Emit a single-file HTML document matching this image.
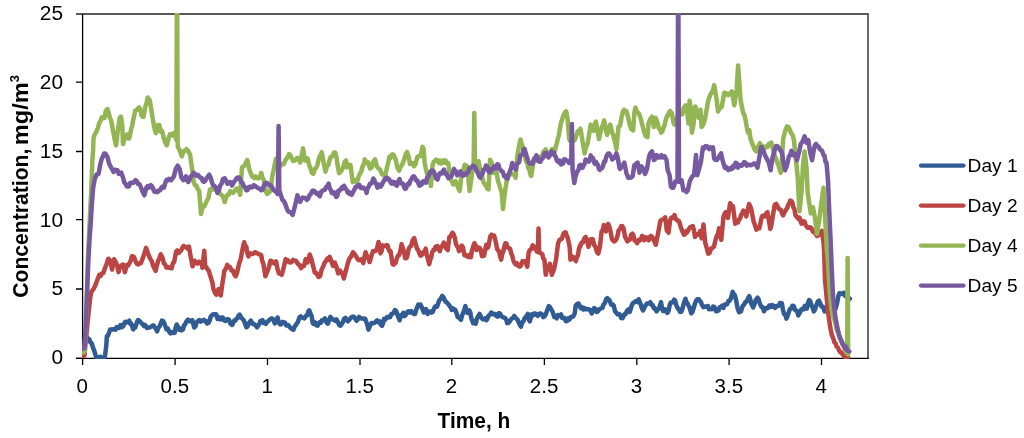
<!DOCTYPE html>
<html><head><meta charset="utf-8"><style>
html,body{margin:0;padding:0;background:#fff;width:1024px;height:438px;overflow:hidden}
svg{display:block}
text{font-family:"Liberation Sans",sans-serif;fill:#000}
.g{filter:grayscale(1)}
.t{font-size:19.5px}
.b{font-weight:bold}
</style></head><body>
<svg width="1024" height="438" viewBox="0 0 1024 438">
<defs><clipPath id="c"><rect x="82" y="13" width="786" height="346"/></clipPath></defs>
<rect x="0" y="0" width="1024" height="438" fill="#fff"/>
<path d="M76 14H868V358.5" fill="none" stroke="#5a5a5a" stroke-width="1.8"/>
<g stroke="#000" stroke-width="1.3" fill="none">
<path d="M82.6 14V358.4M76 358.4H868.9"/>
<path d="M76 358.40H83M76 289.00H83M76 219.65H83M76 151.50H83M76 82.20H83M82.6 358V365M175.1 358V365M267.5 358V365M360.0 358V365M451.8 358V365M544.4 358V365M636.8 358V365M729.1 358V365M821.5 358V365"/>
</g>
<g clip-path="url(#c)" fill="none" stroke-width="4.5" stroke-linejoin="round" stroke-linecap="round">
<polyline stroke="#315C93" points="86.0,338.5 87.2,337.4 88.3,340.6 89.5,339.5 90.5,342.7 91.5,342.9 92.5,346.0 93.5,348.9 94.5,351.5 95.5,355.2 96.5,357.5 97.5,358.6 98.6,359.8 99.7,357.0 100.8,356.7 101.8,359.9 102.9,358.3 104.0,358.6 105.0,356.0 106.4,344.5 106.8,336.3 107.8,335.8 108.8,333.3 110.2,329.4 111.7,329.4 113.2,329.2 114.6,329.4 115.6,329.7 116.6,327.0 117.6,327.5 119.0,328.0 120.5,325.0 122.0,327.1 123.4,326.0 124.4,323.0 125.4,321.8 126.4,322.6 127.9,321.8 129.3,320.6 130.3,323.9 131.3,323.6 133.2,329.4 134.2,328.0 135.2,327.5 137.1,321.6 138.1,320.0 139.1,320.6 141.0,322.6 142.4,324.0 143.9,326.0 144.9,324.8 145.9,326.2 146.9,328.0 148.4,327.5 149.8,327.5 151.2,326.5 152.7,325.5 153.7,325.4 154.7,327.5 155.9,328.4 157.1,331.4 158.3,327.8 159.6,326.5 160.8,323.4 162.0,320.6 163.2,321.3 164.5,323.6 166.4,329.4 167.9,328.7 169.3,331.9 170.3,333.3 171.3,332.1 172.3,331.9 173.5,332.9 174.7,332.8 175.7,327.4 176.7,324.5 178.1,327.0 179.1,329.7 180.1,328.4 181.6,330.3 183.0,329.4 184.0,325.4 185.0,324.5 186.4,321.4 187.9,319.6 189.1,321.2 190.3,321.1 191.3,321.4 192.3,320.1 194.2,327.5 195.4,326.5 196.7,322.1 198.1,320.8 199.6,320.1 200.7,321.6 201.8,321.0 202.9,320.5 203.9,319.9 204.9,321.2 205.9,321.0 207.1,323.5 208.3,322.9 209.5,321.1 210.7,316.6 211.9,315.4 213.2,314.2 214.6,314.6 216.1,314.2 217.6,319.0 219.1,317.4 220.5,319.5 221.7,317.5 222.9,317.6 224.2,320.5 225.4,321.0 226.6,319.7 227.8,319.0 229.1,319.9 230.3,323.4 232.2,324.9 233.2,322.9 234.2,320.5 235.4,320.4 236.6,318.6 237.6,318.0 238.6,315.4 239.6,314.6 241.5,318.1 242.7,319.1 243.9,320.5 245.2,323.9 246.4,327.3 247.6,326.5 248.8,323.4 249.8,322.0 250.8,320.5 252.7,323.9 253.9,324.0 255.2,324.9 257.1,327.3 258.1,325.8 259.1,324.4 260.3,321.1 261.5,321.5 262.5,320.0 263.5,323.0 264.5,322.5 265.9,323.9 267.4,321.5 268.6,320.9 269.8,319.5 271.1,318.6 272.3,318.6 273.5,319.7 274.7,323.4 276.1,320.5 277.6,317.6 278.9,322.9 280.1,324.4 281.3,324.3 282.5,322.0 283.8,322.4 285.0,322.5 286.2,325.4 287.4,325.4 288.6,325.3 289.8,327.3 291.1,328.4 292.3,329.3 293.5,329.7 294.7,326.4 295.7,325.4 296.7,323.6 297.7,322.5 299.6,317.1 300.8,316.3 302.0,317.4 303.2,318.1 304.4,318.4 306.3,315.4 307.3,315.3 308.3,311.5 309.3,310.3 310.3,313.0 311.7,316.4 312.7,323.3 313.9,323.9 315.1,322.3 316.4,325.3 317.6,325.7 319.5,322.3 320.8,322.8 322.0,320.3 323.4,320.3 324.9,318.4 326.4,322.3 327.8,323.7 329.1,320.4 330.3,316.9 331.5,318.3 332.7,319.3 333.9,319.8 335.2,320.8 336.4,319.3 337.6,321.3 339.1,325.0 340.5,325.7 341.8,324.0 343.0,321.8 344.2,318.6 345.4,317.9 346.6,319.6 347.9,321.3 349.4,319.5 350.8,317.9 351.9,317.0 353.1,316.6 354.2,316.9 355.4,319.0 356.6,320.8 357.9,319.3 359.1,316.9 360.3,318.1 361.5,318.4 362.8,318.5 364.0,318.9 365.2,318.7 366.4,322.3 367.4,324.9 368.4,329.6 370.3,325.2 371.6,323.0 372.8,323.3 374.0,323.1 375.2,322.3 377.1,320.3 378.4,322.2 379.6,321.3 380.8,324.7 382.0,325.7 383.0,323.5 384.0,318.9 385.2,319.7 386.4,317.9 387.6,316.7 388.9,317.4 390.1,317.1 391.3,314.0 392.6,313.9 393.8,312.5 395.0,310.1 396.2,311.0 398.1,316.4 399.6,320.3 401.0,315.4 402.4,314.4 403.4,312.8 404.4,316.1 405.4,315.4 407.3,312.0 408.6,311.2 409.8,312.5 411.2,311.1 412.7,312.9 413.9,313.9 415.1,313.9 416.1,310.1 417.1,307.6 418.3,304.6 419.5,305.1 420.5,304.5 421.5,306.6 422.7,309.7 423.9,312.5 424.9,309.4 425.9,309.0 427.8,313.9 429.1,311.8 430.3,311.5 431.5,312.6 432.7,312.0 433.7,309.4 434.7,307.1 435.9,306.1 437.1,306.6 438.1,303.5 439.1,300.7 441.0,298.3 442.2,295.9 443.5,297.3 445.4,301.7 446.6,302.2 447.9,303.7 449.8,306.1 450.8,307.7 451.8,310.0 453.0,308.5 454.2,309.5 455.4,309.9 456.6,313.4 457.6,316.9 458.6,317.3 459.8,318.6 461.0,319.8 462.0,315.4 463.0,313.4 464.2,310.2 465.4,306.1 466.4,310.8 467.4,312.9 469.3,310.5 470.3,312.5 471.3,318.3 473.2,323.2 474.4,321.5 475.7,323.7 476.9,318.6 478.1,316.4 479.6,313.9 481.5,317.8 482.8,319.4 484.0,319.3 485.2,318.4 486.4,320.3 487.4,318.9 488.4,315.9 489.9,314.9 491.3,312.5 492.6,313.6 493.8,314.4 495.0,314.0 496.2,315.9 497.4,316.6 498.6,313.4 499.1,313.2 500.0,313.4 501.2,316.3 502.4,316.9 503.6,317.4 504.9,317.8 506.1,319.4 507.3,323.2 508.6,322.8 509.8,321.3 511.0,319.4 512.2,318.3 513.2,317.4 514.2,315.9 516.1,318.3 517.4,319.5 518.6,322.2 519.8,324.9 521.0,326.6 522.2,322.2 523.4,321.3 524.6,318.3 525.9,316.9 527.8,313.9 528.8,319.5 529.8,321.3 531.7,314.4 533.0,315.4 534.2,313.4 535.4,313.4 536.6,314.9 537.9,315.8 539.1,313.9 540.5,313.4 542.0,314.4 543.2,317.2 544.4,316.4 545.6,314.7 546.9,311.0 548.8,306.1 549.8,307.0 550.8,308.6 552.7,312.0 554.2,316.9 555.4,316.6 556.6,318.3 557.9,315.1 559.1,315.9 561.0,314.4 562.2,317.9 563.5,318.3 564.7,318.0 565.9,321.3 567.1,321.1 568.4,318.3 569.6,319.4 570.8,316.9 572.0,316.9 573.2,316.4 574.7,313.4 575.7,305.6 577.6,303.7 578.6,303.6 579.6,306.1 580.8,308.1 582.0,307.1 583.2,309.5 584.5,308.1 585.7,309.4 586.9,309.0 588.1,309.3 589.4,309.5 590.6,311.0 591.8,313.4 593.0,310.1 594.2,308.1 595.5,308.9 596.7,312.0 597.9,311.4 599.1,309.5 600.0,309.0 601.2,308.2 602.4,308.0 603.6,304.3 604.9,303.1 606.1,299.1 607.3,298.2 608.3,299.6 609.3,299.7 611.2,304.6 612.5,304.2 613.7,305.5 615.1,311.4 616.4,312.8 617.6,314.3 618.8,313.9 620.0,314.8 621.2,318.0 622.5,318.2 624.4,314.3 625.6,314.2 626.9,310.9 628.3,309.5 629.8,311.9 631.7,305.5 633.0,302.9 634.2,302.6 635.4,301.2 636.6,301.1 637.6,302.1 638.6,299.2 640.5,303.6 641.8,308.1 643.0,310.4 644.9,306.5 645.9,304.9 646.9,303.4 647.9,303.6 649.1,303.5 650.3,302.1 651.5,304.9 652.7,305.0 653.7,308.2 654.7,308.0 656.6,311.4 657.9,309.3 659.1,308.5 661.0,302.1 662.0,308.0 663.0,310.9 664.2,310.9 665.4,309.4 666.4,311.1 667.4,312.9 668.6,310.7 669.8,304.6 670.8,302.5 671.8,302.6 673.0,302.1 674.2,299.7 675.2,300.7 676.2,305.0 678.1,308.9 679.1,309.1 680.1,311.9 681.3,311.8 682.5,308.5 684.0,302.5 685.4,298.7 686.4,301.9 687.4,303.1 688.4,305.5 689.4,307.0 691.3,313.3 692.5,311.8 693.8,307.5 695.0,303.5 696.2,300.6 697.4,299.3 698.6,299.2 700.0,301.1 701.0,302.2 702.0,305.0 703.5,307.2 704.9,306.5 706.3,306.7 707.8,306.0 709.0,309.3 710.3,308.9 711.8,309.2 713.2,306.5 714.7,307.4 716.1,311.3 717.4,311.1 718.6,310.4 719.8,307.1 721.0,306.9 722.2,305.6 723.4,307.9 724.6,304.5 725.9,304.5 727.1,304.3 728.3,301.1 729.5,301.0 730.8,298.6 732.7,291.8 733.7,294.6 734.7,294.7 736.1,300.1 737.6,308.4 739.1,312.3 741.0,311.3 742.0,307.8 743.0,305.5 744.2,304.3 745.4,302.1 746.6,301.5 747.9,298.6 749.3,296.2 750.3,299.4 751.3,303.5 753.2,307.4 754.5,304.0 755.7,300.1 757.6,297.7 758.6,299.2 759.6,303.0 761.5,306.9 762.8,307.4 764.0,311.3 765.2,308.7 766.4,307.9 767.8,308.3 769.3,305.5 770.3,305.6 771.3,306.9 772.3,305.0 773.8,306.3 775.2,307.9 776.4,306.1 777.6,306.0 778.9,305.6 780.1,303.0 781.8,303.2 783.0,310.0 784.1,314.1 785.2,314.4 786.4,318.7 787.5,316.2 788.7,312.3 789.9,308.9 791.0,308.7 792.4,305.8 793.7,305.9 794.9,309.7 796.0,310.5 797.1,311.2 798.3,315.5 800.1,312.3 801.2,309.5 802.4,308.7 803.5,309.3 804.7,305.9 805.8,307.0 806.9,308.7 808.0,302.8 809.2,300.0 810.4,301.4 811.5,305.5 812.6,307.4 813.8,311.4 815.0,309.6 816.1,305.9 817.9,301.4 819.0,300.7 820.2,303.2 821.4,306.4 822.5,306.4 823.6,308.4 824.7,311.4 826.6,306.8 827.7,308.1 828.9,307.2 830.0,305.0 831.0,304.8 832.0,305.3 833.0,307.0 834.2,307.9 835.5,309.0 837.1,303.2 838.4,295.9 839.5,293.2 840.7,293.6 841.9,294.0 843.0,293.1 844.1,292.7 845.3,295.9 846.5,294.6 847.6,297.2 848.8,299.8 849.9,298.6"/>
<polyline stroke="#BB4542" points="82.6,356.0 84.5,355.5 85.6,342.0 86.6,332.0 87.6,322.0 90.1,298.6 91.3,292.2 91.7,291.3 93.6,288.8 95.5,284.9 97.4,279.8 99.3,274.7 100.6,275.9 101.9,273.4 103.2,273.3 104.5,269.6 106.4,264.5 108.3,258.7 110.2,260.6 112.1,269.6 114.1,259.3 116.0,262.5 117.2,265.5 118.5,272.1 119.8,267.2 121.1,265.7 123.0,264.5 124.9,272.1 126.8,265.1 128.1,265.5 129.4,263.2 130.7,260.6 132.0,256.1 133.9,256.8 135.8,261.9 137.1,263.9 138.3,264.5 139.6,263.1 140.9,263.2 142.8,258.1 143.9,255.1 144.9,251.7 146.0,247.8 147.9,253.0 149.2,256.5 150.5,259.3 151.8,261.1 153.1,265.7 154.3,268.0 155.6,270.9 156.9,265.3 158.2,260.6 159.4,258.3 160.7,254.2 162.6,258.1 163.9,263.3 165.2,264.5 166.3,267.4 167.3,266.8 168.4,267.7 169.5,267.7 170.5,267.2 171.6,268.3 172.9,263.2 174.2,261.9 176.1,251.7 177.3,250.5 178.6,253.0 179.9,251.6 181.2,250.4 182.4,247.5 183.7,246.0 184.0,246.5 185.4,246.7 186.8,247.9 187.9,248.8 189.0,246.5 190.4,255.0 192.5,266.3 193.6,263.6 194.6,260.7 196.1,262.3 197.5,263.5 198.9,261.7 200.3,262.1 201.4,263.0 202.4,267.7 204.3,250.7 205.2,266.3 206.3,267.1 207.4,269.2 208.8,270.9 210.2,275.5 211.2,278.7 212.3,281.9 213.4,288.8 214.5,291.8 215.6,293.9 216.6,294.7 217.6,290.6 218.7,289.0 219.8,293.8 220.8,295.4 222.2,284.7 224.4,270.6 225.8,268.9 227.2,264.9 228.6,266.9 230.0,267.0 231.4,270.4 232.9,270.6 234.3,274.5 235.7,276.2 237.1,272.4 238.5,266.3 239.6,262.2 240.7,259.2 242.8,247.9 244.2,242.2 245.2,246.3 246.3,246.5 247.4,253.3 248.4,256.4 249.9,253.6 251.3,253.6 252.5,254.1 253.6,253.5 254.8,252.2 256.2,252.7 257.7,253.6 258.9,254.2 260.0,254.5 261.2,255.0 262.2,260.9 263.3,263.5 265.4,276.2 266.5,273.4 267.6,270.6 269.0,267.0 270.4,260.7 271.8,261.2 273.2,262.8 274.6,263.6 276.1,261.4 277.5,269.0 278.9,273.4 280.3,273.9 281.7,274.8 282.9,270.8 284.0,266.3 285.7,259.1 286.9,261.4 288.0,260.3 289.4,262.3 290.8,262.5 292.0,261.7 293.1,259.9 294.3,260.3 295.7,260.7 297.1,262.5 298.2,264.4 299.4,264.8 301.1,268.2 302.6,265.8 304.0,266.0 305.7,259.1 307.4,262.5 308.5,260.1 309.7,254.5 311.4,259.1 313.1,266.0 314.8,272.8 316.0,272.7 317.1,274.5 318.6,277.0 320.0,276.2 321.7,269.4 323.4,266.0 324.5,262.9 325.7,261.4 327.4,258.5 328.5,259.5 329.7,256.8 331.4,261.4 333.1,266.0 334.8,262.5 336.5,267.1 338.2,273.4 339.9,270.5 341.0,272.5 342.2,272.8 343.9,278.5 345.6,271.7 347.4,264.8 349.1,259.1 350.8,256.8 352.0,254.6 353.1,252.3 354.8,254.5 356.0,256.3 357.1,258.0 358.2,259.8 359.3,260.3 360.5,260.1 361.6,259.1 363.3,263.1 364.5,256.9 365.6,252.3 367.3,256.8 368.5,258.2 369.6,262.0 371.3,256.3 373.0,251.1 374.1,251.1 375.3,251.1 377.0,248.8 378.5,242.0 380.5,253.4 381.6,251.1 382.7,245.4 384.0,246.1 385.2,246.1 386.5,245.1 387.5,245.4 388.5,249.1 389.5,251.4 390.5,251.1 392.6,264.2 393.6,264.6 394.6,263.2 395.6,262.8 396.6,259.2 397.9,255.9 399.1,255.1 400.4,250.6 401.6,244.1 403.1,249.1 404.1,251.9 405.1,258.2 406.1,258.3 407.1,257.2 408.6,249.1 409.9,246.7 411.1,246.1 412.7,240.1 414.2,238.1 415.7,244.1 417.2,249.1 418.2,250.0 419.2,253.1 420.4,255.6 421.7,255.1 422.7,252.5 423.7,253.1 424.7,250.9 425.7,248.6 426.7,254.8 427.7,258.2 429.2,264.2 430.2,259.7 431.2,257.2 432.2,252.5 433.3,250.1 434.3,250.1 435.3,247.1 436.3,246.3 437.3,246.1 438.6,249.5 439.8,251.1 441.1,246.7 442.3,246.1 443.8,242.6 444.8,244.8 445.8,248.1 446.8,247.8 447.8,250.1 449.3,237.1 450.3,236.7 451.3,235.0 452.4,232.8 453.4,234.0 454.9,238.1 455.9,243.9 456.9,246.1 457.9,246.7 458.9,251.1 459.9,250.5 460.9,248.1 461.9,245.7 462.9,247.1 464.4,255.1 465.6,254.7 466.9,256.2 468.1,256.9 469.4,255.1 470.9,257.2 471.9,250.8 473.0,247.1 474.5,243.1 475.5,245.3 476.5,250.1 477.5,249.6 478.5,247.6 479.5,247.9 480.5,249.1 482.0,256.2 483.1,254.1 484.1,255.6 486.2,244.7 487.2,248.0 488.2,247.4 490.3,236.4 491.6,234.7 493.0,235.8 494.1,235.6 495.1,239.2 496.1,243.4 497.1,248.8 498.1,250.6 499.2,251.5 500.2,256.6 501.2,259.7 502.2,254.1 503.3,251.5 504.3,246.7 505.3,243.3 506.4,243.5 507.4,247.4 508.8,247.9 510.1,248.8 511.2,253.3 512.2,255.6 513.2,260.0 514.2,262.5 515.6,264.5 517.0,263.2 518.4,265.9 519.7,266.6 521.1,265.3 522.5,261.1 523.9,261.9 525.2,261.1 526.2,263.7 527.3,266.6 528.6,252.9 529.7,250.1 530.7,249.5 531.7,248.0 532.7,245.3 533.8,246.3 534.8,248.8 535.8,248.6 536.8,251.5 537.8,252.0 538.5,228.5 539.2,252.0 540.0,252.9 541.1,253.3 542.3,254.2 543.3,258.4 544.4,259.7 545.8,274.8 546.8,269.9 547.8,267.9 548.8,266.2 549.9,263.8 551.9,274.8 553.0,271.6 554.0,269.3 555.0,264.6 556.0,259.7 558.1,243.3 559.5,239.8 560.8,239.2 561.8,239.0 562.9,235.1 564.2,232.7 565.6,232.3 566.7,235.5 567.7,237.8 568.7,242.3 569.7,247.4 570.4,259.7 571.8,256.4 573.2,257.0 574.5,259.3 575.9,261.1 576.9,256.9 577.9,255.6 579.0,248.7 580.0,245.3 580.2,246.9 581.5,242.8 582.9,242.5 584.3,238.4 585.7,237.0 587.0,240.3 588.4,246.9 589.5,243.6 590.6,239.2 591.7,239.2 592.8,239.2 594.1,245.0 595.5,246.9 596.9,251.9 598.3,253.5 599.9,246.9 601.6,231.5 602.7,230.2 603.8,225.0 604.9,227.2 606.0,231.5 607.1,227.5 608.2,223.9 609.2,226.2 610.3,230.4 612.0,239.2 613.1,240.7 614.2,241.4 615.3,240.8 616.4,239.2 617.5,236.0 618.6,230.4 620.0,229.1 621.3,226.1 622.4,226.2 623.5,228.3 625.1,237.0 626.2,238.9 627.3,241.4 628.7,240.4 630.1,239.2 631.2,234.5 632.3,233.7 633.4,235.1 634.5,240.3 635.9,241.3 637.2,243.1 638.6,240.1 640.0,240.3 641.0,239.0 642.1,235.9 643.2,237.1 644.3,240.3 645.4,237.3 646.5,237.6 647.6,237.7 648.7,240.3 649.8,237.0 650.9,235.9 652.3,237.0 653.7,240.3 654.8,242.6 655.8,244.7 656.9,239.1 658.0,233.7 660.2,221.7 661.3,219.8 662.4,219.5 663.8,219.0 665.2,217.3 666.8,230.4 668.5,232.6 670.1,220.6 671.2,217.8 672.3,217.3 673.4,217.8 674.5,215.1 675.6,219.2 676.7,219.5 677.8,221.1 678.9,220.9 680.0,224.3 681.1,228.2 682.5,231.5 684.0,234.7 685.0,234.3 686.0,231.4 687.0,232.5 688.5,229.6 689.9,227.4 691.3,226.8 692.8,226.0 693.9,230.2 695.0,236.9 696.5,234.2 697.9,234.7 699.0,234.1 700.1,231.1 701.6,238.4 703.5,224.5 705.2,242.8 706.2,245.9 707.2,250.1 708.2,253.7 709.7,252.8 711.1,248.6 712.5,247.9 714.0,246.4 715.5,240.1 716.9,235.5 718.0,233.8 719.1,228.2 721.3,239.9 723.5,216.5 724.6,213.8 725.7,212.1 726.8,213.1 727.9,217.9 730.1,203.3 731.5,205.5 733.0,206.2 735.2,223.8 736.7,221.5 738.1,222.3 739.1,219.1 740.1,218.8 741.1,215.0 742.2,213.5 743.3,210.6 744.8,211.6 746.2,216.5 747.7,210.1 749.1,204.0 750.2,206.2 751.3,209.2 753.5,220.9 755.0,225.2 756.4,229.6 757.8,227.7 759.3,228.2 760.4,223.4 761.5,217.9 762.5,215.7 763.5,216.1 764.5,216.5 766.0,213.8 767.4,212.1 770.3,228.9 771.4,225.1 772.5,217.9 774.7,204.8 776.2,203.8 777.6,206.2 778.8,208.8 780.0,209.3 781.0,210.1 782.1,213.7 783.1,215.4 784.1,212.9 785.2,211.2 786.2,209.3 787.2,208.2 788.2,204.7 789.2,203.1 790.2,200.6 791.3,201.1 792.3,202.6 793.3,207.2 794.3,208.6 795.4,214.8 796.4,216.5 797.4,217.4 798.5,219.0 799.5,217.5 800.5,221.4 801.6,223.7 802.6,221.1 803.6,222.9 804.6,221.6 805.6,224.8 806.7,226.6 807.7,227.8 808.7,227.8 809.8,227.2 810.8,227.8 811.8,229.0 812.9,231.7 813.9,231.9 814.9,232.3 816.0,234.7 817.0,236.0 818.0,234.5 819.0,235.1 820.0,231.9 821.0,232.6 822.1,230.8 823.5,242.1 824.1,250.0 825.0,280.0 826.9,300.0 828.3,314.2 830.4,328.3 831.8,335.0 833.2,338.2 834.4,342.4 835.5,343.1 836.7,346.7 837.9,347.5 839.1,350.5 840.3,352.4 841.3,352.3 842.4,353.9 843.5,355.7 844.5,355.9 845.7,357.9 846.9,356.8 848.1,356.8"/>
<polyline stroke="#93B553" points="82.6,352.5 84.5,352.0 85.8,325.0 86.8,295.0 87.8,262.0 88.6,245.0 90.1,213.0 91.0,195.0 91.8,175.0 92.4,160.0 93.1,150.0 93.5,138.6 94.5,134.8 95.6,133.1 96.6,131.2 97.6,129.0 98.7,125.0 99.7,122.1 100.8,120.1 101.8,117.3 103.2,118.2 104.5,118.0 105.5,112.2 106.5,109.8 107.5,109.2 108.6,112.5 109.7,117.3 110.7,119.4 111.7,123.2 112.7,129.0 114.8,140.0 116.1,145.4 117.5,133.1 119.6,118.0 120.9,116.7 122.3,126.2 123.0,144.1 124.4,138.6 125.8,135.5 127.1,134.5 128.1,138.5 129.2,138.6 130.2,133.7 131.2,129.0 132.2,125.5 133.3,119.4 134.3,114.9 135.3,110.5 136.7,110.0 138.1,108.4 139.1,107.4 140.1,109.1 141.5,115.3 142.5,116.5 143.5,116.7 145.6,105.7 146.6,103.1 147.6,97.5 148.6,98.9 149.7,100.2 151.1,108.4 152.4,116.7 153.8,124.9 154.9,130.0 155.9,133.1 156.9,129.7 157.9,124.9 159.3,124.9 160.7,131.7 161.7,130.7 162.7,133.1 163.8,138.2 164.8,141.3 165.8,143.7 166.8,145.4 167.9,140.5 168.9,137.2 170.2,134.0 171.6,134.5 172.6,135.3 173.7,133.1 175.0,135.8 176.4,140.0 176.9,-20.0 177.1,-20.0 177.6,140.0 177.8,146.8 178.9,148.8 180.0,151.0 181.8,156.4 183.6,151.0 185.0,150.9 186.4,149.1 188.2,151.0 190.0,154.6 191.9,167.4 193.7,182.0 195.1,185.3 196.4,185.6 197.8,189.2 199.2,191.1 201.0,214.0 202.8,205.7 204.2,206.5 205.5,203.9 206.9,200.7 208.3,198.4 210.1,189.3 211.9,189.3 213.3,189.6 214.7,187.4 215.9,187.8 217.1,190.4 218.3,189.3 219.7,193.5 221.1,194.7 222.3,195.5 223.5,198.1 224.7,202.0 226.1,197.2 227.4,194.7 228.8,194.8 230.2,191.1 231.6,191.7 232.9,192.9 234.3,191.6 235.7,189.3 237.1,188.5 238.4,189.3 240.2,194.7 242.0,167.4 243.4,166.5 244.8,165.5 246.0,162.3 247.2,160.1 248.2,164.1 249.3,169.2 250.7,173.2 252.1,176.5 253.3,176.8 254.5,178.1 255.7,176.5 257.1,178.1 258.5,178.3 259.9,177.3 261.2,172.8 262.5,177.9 263.9,180.1 265.8,191.1 267.1,194.0 268.5,192.9 270.3,191.1 272.2,176.5 273.5,170.8 274.9,163.7 275.9,158.7 277.2,159.0 278.5,162.0 279.8,164.2 281.1,165.4 282.4,164.3 283.8,164.1 285.2,160.6 286.5,158.7 287.7,157.1 289.0,154.0 290.4,155.2 291.8,158.7 293.2,161.0 294.6,160.6 296.0,159.5 297.4,157.8 298.8,159.3 300.2,162.5 303.0,148.4 304.9,160.6 306.3,157.9 307.7,158.7 309.1,164.8 310.5,168.1 311.9,172.9 313.3,173.7 314.7,169.3 316.1,168.1 317.5,164.6 318.9,158.7 320.4,155.1 321.8,152.2 323.6,162.5 325.5,171.8 326.0,169.7 327.1,166.0 328.3,165.1 329.5,160.3 330.6,157.1 331.7,156.7 332.9,155.6 334.0,152.6 335.1,152.5 336.3,156.0 337.4,164.0 339.1,173.1 340.2,172.4 341.4,170.8 343.1,167.4 344.8,161.7 346.0,160.5 347.1,167.4 348.8,165.1 350.5,165.1 351.7,174.2 352.8,182.2 354.0,179.8 355.1,181.1 356.2,181.7 357.4,180.5 358.8,176.1 360.2,173.1 361.4,171.2 362.5,166.3 363.6,164.8 364.8,159.4 366.5,162.8 368.2,162.3 370.0,168.5 371.7,167.4 373.4,161.7 375.1,159.4 376.8,166.3 378.5,168.5 380.2,169.7 381.9,174.2 383.6,175.4 385.4,174.2 386.5,169.7 387.6,165.1 389.4,157.1 390.5,157.9 391.6,154.8 392.8,154.3 393.9,155.4 395.6,159.4 397.3,167.4 399.1,170.8 400.8,166.3 402.5,164.0 404.2,159.4 405.9,153.7 407.1,152.0 408.8,157.1 409.9,164.0 411.6,162.8 412.8,162.9 413.9,166.3 415.6,164.0 417.3,157.1 419.0,156.0 420.7,156.0 422.5,146.8 423.6,149.1 424.7,162.8 426.0,169.6 427.2,174.1 428.5,177.8 429.7,180.0 430.9,186.0 432.6,164.7 433.7,161.8 434.8,161.0 435.9,159.7 437.0,161.2 438.1,160.5 439.2,163.0 440.3,160.6 441.3,163.4 442.4,161.4 443.5,160.4 444.6,162.7 445.7,160.6 446.9,163.4 448.2,163.0 450.7,179.5 451.9,181.5 453.1,184.4 454.4,182.6 455.6,181.1 456.9,184.5 458.1,187.7 459.7,191.0 461.4,176.2 462.5,172.9 463.6,168.9 464.7,164.7 465.9,165.7 467.1,166.3 469.6,191.0 472.1,172.9 473.6,168.0 474.3,113.1 475.0,165.0 476.2,161.4 477.4,161.9 478.6,161.4 479.9,168.9 481.1,172.9 482.4,177.9 483.6,182.8 484.8,184.1 486.0,186.0 487.2,188.5 488.5,189.3 490.1,159.7 491.8,163.0 493.4,172.9 494.5,171.9 495.6,172.1 496.7,172.9 497.9,180.6 499.2,184.4 500.4,188.6 501.7,192.6 503.0,209.1 504.6,194.3 506.6,181.1 507.7,178.6 508.8,173.7 509.9,172.9 511.0,173.1 512.1,174.3 513.2,174.5 514.4,174.2 515.6,177.8 517.3,156.4 518.9,146.6 520.5,139.5 521.6,143.4 522.8,147.0 523.9,149.9 526.0,161.4 526.1,153.4 528.1,167.8 529.1,168.8 530.2,173.8 531.2,176.0 533.2,163.7 534.2,161.5 535.3,160.3 536.3,157.5 537.3,158.3 538.4,161.1 539.4,161.6 540.4,160.5 541.5,155.6 542.5,155.4 543.5,151.6 544.6,152.0 545.6,149.3 546.6,153.2 547.6,152.4 548.6,155.4 549.6,153.2 550.7,151.7 551.7,149.3 552.7,149.2 553.8,150.1 554.8,151.3 555.8,146.5 556.9,143.1 557.9,138.5 558.9,134.9 561.0,122.6 562.0,120.2 563.0,116.3 564.0,114.4 565.0,112.4 566.1,111.3 567.5,118.5 569.2,139.0 570.2,141.1 571.2,141.1 572.2,138.7 573.2,140.3 574.3,140.5 575.3,139.0 576.3,135.5 577.4,132.4 578.4,130.8 579.5,131.0 580.5,128.7 582.5,141.1 584.6,153.4 585.6,148.9 586.7,145.3 587.7,143.1 590.7,124.6 591.7,126.4 592.8,129.5 593.8,130.8 594.8,124.6 595.9,121.6 599.0,139.0 600.0,134.2 601.0,130.1 602.0,126.7 603.0,124.9 604.1,120.5 605.1,125.1 606.2,131.5 607.2,134.9 608.2,130.1 609.2,127.4 610.2,124.6 611.2,128.6 612.3,133.0 613.3,134.9 614.3,139.5 615.4,143.4 616.4,149.3 618.5,126.7 620.0,125.8 621.7,116.7 622.9,111.7 624.0,109.8 625.1,110.5 626.3,111.0 628.0,116.7 629.7,124.7 631.4,129.2 633.1,130.4 634.3,113.3 635.4,107.6 637.1,112.1 638.8,113.3 640.5,117.8 642.3,124.7 644.0,131.5 645.7,136.1 647.4,137.2 648.5,123.5 650.3,119.0 652.0,116.7 653.7,127.0 655.4,117.8 657.1,121.3 658.8,128.1 660.0,129.2 661.1,132.7 662.2,131.6 663.4,128.1 664.5,125.5 665.7,120.1 666.8,116.5 667.9,115.5 669.0,112.4 670.2,111.0 671.9,113.3 673.7,123.5 674.8,124.7 675.9,122.6 677.0,118.0 678.0,116.6 679.0,115.2 680.0,112.0 681.1,112.6 682.2,114.4 683.9,107.6 685.6,105.3 687.4,113.3 688.5,123.5 689.6,100.7 690.8,108.7 691.9,132.7 693.6,123.5 695.3,106.4 697.1,112.1 698.8,117.8 700.5,109.8 701.6,127.0 703.3,124.7 705.0,119.0 706.8,108.7 708.0,101.7 709.2,97.7 710.5,94.4 711.7,92.7 713.0,90.1 714.2,85.1 716.7,100.2 718.0,111.5 719.3,108.9 720.5,107.6 721.8,106.5 724.3,92.7 725.5,93.2 726.8,94.0 728.0,95.2 729.3,93.6 730.5,94.3 731.8,91.4 734.3,105.2 736.6,90.0 738.1,65.5 740.6,100.2 743.1,112.8 744.4,115.0 745.6,120.0 746.8,127.5 748.0,132.6 749.3,130.1 750.5,138.8 752.4,143.9 754.3,148.9 756.2,151.4 758.1,146.4 760.0,143.2 761.9,147.6 763.1,146.3 764.4,148.9 766.3,146.4 767.5,146.9 768.8,143.9 770.0,144.8 771.3,142.6 773.2,150.2 775.0,156.4 776.9,161.5 778.8,166.5 780.7,172.8 782.0,157.7 783.2,138.8 785.1,131.3 787.0,126.3 788.9,127.5 790.8,132.6 792.6,135.1 793.9,140.1 795.1,151.4 796.4,164.0 797.7,177.0 799.5,211.3 801.6,190.8 803.0,165.0 804.5,151.5 805.7,160.0 806.5,168.0 807.7,192.9 810.8,213.4 811.8,212.2 812.9,207.2 814.9,217.5 817.0,233.9 819.0,221.6 821.1,205.2 823.5,187.7 824.8,211.3 826.2,238.0 826.8,250.0 828.0,262.0 829.6,290.0 830.6,300.0 831.6,310.0 833.5,317.0 834.8,321.2 836.0,326.0 837.1,330.8 838.3,332.0 839.6,337.7 841.0,340.0 842.2,341.4 843.3,346.0 844.5,347.5 845.9,351.8 847.2,353.5 847.6,258.0 848.2,354.5"/>
<polyline stroke="#7759A0" points="82.6,348.5 84.5,348.0 86.0,320.0 87.2,290.0 88.4,260.0 89.5,240.0 90.6,225.0 91.8,205.0 93.1,188.0 94.8,178.9 96.7,174.5 98.6,173.9 100.4,163.8 101.7,159.0 103.0,156.3 104.2,153.5 105.5,153.8 107.4,156.9 109.2,163.8 111.1,167.6 112.3,169.4 113.6,172.0 114.9,169.7 116.2,170.1 117.5,170.3 118.7,173.9 120.0,172.9 121.2,172.6 123.1,177.7 124.3,182.5 125.6,183.9 126.8,186.4 128.1,186.5 129.1,186.3 130.2,182.9 131.2,182.7 132.4,182.8 133.7,182.7 135.6,180.2 136.8,181.2 138.1,183.9 139.3,183.9 140.6,186.5 142.5,191.5 144.4,195.3 146.3,187.7 147.6,186.1 148.8,187.7 150.7,185.2 151.9,186.0 153.2,189.0 154.3,191.5 155.3,192.0 156.4,191.5 157.7,192.1 158.9,190.2 160.2,190.2 161.4,187.7 162.7,186.5 163.9,187.7 165.8,181.4 166.8,179.8 167.9,180.2 168.9,178.9 170.0,179.8 171.0,180.3 172.1,178.9 173.9,176.4 175.8,168.9 177.7,165.7 179.6,168.9 181.5,177.7 183.4,180.2 184.7,179.8 185.9,176.4 187.1,177.5 188.2,182.0 189.6,179.7 190.9,176.5 192.3,175.3 193.7,172.8 195.1,174.2 196.4,175.6 197.8,174.8 199.2,176.5 200.4,177.9 201.6,177.9 202.8,181.1 204.0,181.9 205.3,180.7 206.5,178.3 207.8,176.7 209.2,174.7 210.6,177.6 211.9,182.0 213.1,185.4 214.4,185.9 215.6,187.4 217.4,192.9 218.8,190.8 220.1,185.6 221.5,183.8 222.9,179.2 224.7,178.3 226.1,181.1 227.4,183.8 228.8,182.6 230.2,182.0 232.0,185.6 233.8,182.0 235.2,180.5 236.6,178.3 237.9,177.6 239.3,177.4 241.1,182.0 242.5,182.9 243.9,186.5 245.1,187.0 246.3,190.2 247.5,190.2 248.7,187.4 250.0,186.5 251.2,187.4 252.4,187.3 253.6,185.3 254.8,185.6 256.0,186.7 257.3,187.4 258.5,188.4 259.9,188.7 261.2,190.2 262.5,189.9 263.9,185.6 265.3,183.0 266.7,182.9 268.0,183.9 269.4,185.6 270.8,185.3 272.2,187.4 273.5,189.8 274.9,191.1 276.2,191.7 277.6,194.0 277.9,190.0 278.6,126.0 279.3,190.0 280.6,194.3 282.4,199.9 283.8,201.2 285.2,203.7 287.1,209.3 288.5,211.7 289.9,212.1 291.3,212.8 292.7,214.9 294.1,209.5 295.5,203.7 297.4,195.2 298.8,200.1 300.2,201.8 301.5,198.9 302.7,197.5 304.0,198.0 305.4,197.9 306.8,199.9 308.2,198.6 309.6,195.2 310.8,194.1 312.1,191.1 313.3,190.6 314.7,191.3 316.1,193.4 317.4,193.0 318.6,195.1 319.9,196.2 321.3,191.6 322.7,190.6 323.9,190.1 325.0,189.7 326.2,186.8 327.4,187.0 328.6,183.6 329.6,187.6 330.6,189.8 331.9,193.2 333.2,192.9 334.2,192.3 335.3,194.8 336.3,197.0 337.3,195.8 338.3,190.8 339.6,190.9 340.9,188.8 341.9,187.4 343.0,188.5 344.0,185.7 345.3,188.2 346.6,189.8 347.6,192.5 348.6,191.8 349.6,194.0 350.6,193.2 351.7,194.9 353.0,192.1 354.3,189.8 355.6,186.8 356.8,186.7 358.1,185.2 359.4,184.7 360.7,188.0 362.0,187.7 363.2,187.6 364.5,188.8 365.6,188.9 366.6,192.9 367.6,188.0 368.7,186.7 369.9,183.8 371.2,183.6 372.2,182.2 373.3,178.5 374.3,180.0 375.3,182.6 376.4,184.3 377.4,187.7 378.4,184.6 379.4,184.7 380.7,186.6 382.0,184.7 383.3,181.8 384.6,179.5 385.6,178.3 386.7,177.7 387.7,179.5 388.7,178.8 389.7,180.2 390.7,182.6 391.7,183.6 392.8,181.9 393.8,183.6 394.8,182.5 395.9,185.0 396.9,185.7 398.2,181.3 399.5,179.0 400.8,183.3 402.1,183.6 403.1,183.8 404.1,187.2 405.1,188.8 406.1,188.2 407.2,185.0 408.2,183.6 409.2,184.2 410.3,180.8 411.3,179.5 412.6,176.9 413.9,176.4 415.1,178.1 416.4,180.6 417.4,180.4 418.5,183.7 419.5,185.7 420.5,183.3 421.6,184.5 422.6,181.6 423.6,182.6 424.7,180.9 425.7,180.6 426.0,182.8 427.2,177.6 428.5,176.2 429.6,173.3 430.7,171.3 431.8,170.4 432.9,170.6 433.9,172.1 435.0,174.5 436.2,178.5 437.5,179.5 438.6,175.9 439.7,173.3 440.8,172.9 441.9,173.5 443.0,171.0 444.1,169.6 445.2,173.8 446.3,173.6 447.4,176.2 448.5,178.1 449.6,177.3 450.7,177.0 451.8,175.4 452.9,172.5 454.0,168.8 455.1,171.0 456.2,171.6 457.3,175.4 458.4,172.9 459.4,174.2 460.5,171.3 461.6,174.3 462.7,175.7 463.8,175.4 464.9,173.9 466.0,174.4 467.1,172.9 468.4,171.6 469.6,168.0 470.7,167.7 471.8,167.6 472.9,165.5 474.1,166.4 475.3,167.1 476.6,170.6 477.8,172.9 479.1,176.1 480.3,177.8 481.4,174.1 482.5,174.0 483.6,169.6 484.8,169.4 486.0,165.5 487.2,166.7 488.5,171.3 489.6,172.4 490.7,171.5 491.8,168.8 492.9,169.2 494.0,166.4 495.1,168.0 496.2,168.5 497.3,164.3 498.4,164.7 499.5,168.8 500.6,169.8 501.7,171.3 502.9,172.0 504.1,176.2 505.2,175.7 506.3,178.4 507.4,178.7 508.6,175.3 509.9,171.3 511.1,168.1 512.3,163.0 513.4,166.9 514.5,166.3 515.6,169.6 516.9,164.3 518.1,163.0 519.2,162.0 520.3,155.6 521.4,154.8 522.5,154.4 523.6,149.4 524.7,149.0 525.9,154.5 527.1,157.5 528.1,160.7 529.2,163.1 530.2,163.7 531.2,163.2 532.2,163.8 533.2,161.6 534.2,158.3 535.3,158.2 536.3,155.4 537.3,156.8 538.4,161.1 539.4,161.6 540.4,161.7 541.5,159.4 542.5,158.5 543.5,156.9 544.6,153.2 545.6,153.4 546.6,152.9 547.6,156.5 548.6,157.5 549.6,155.4 550.7,154.8 551.7,151.3 552.7,153.1 553.8,152.6 554.8,155.4 555.8,156.9 556.9,160.6 557.9,161.6 558.9,162.2 560.0,160.7 561.0,164.5 562.0,163.7 563.0,163.6 564.1,159.2 565.1,159.5 566.1,160.4 567.1,160.4 568.1,161.6 569.1,162.9 570.2,161.1 571.2,162.0 571.9,124.0 572.6,170.0 574.3,183.0 575.3,177.4 576.4,173.9 577.4,171.1 578.4,170.3 579.4,165.7 580.4,164.8 581.5,165.6 582.5,167.8 583.5,165.5 584.6,163.8 585.6,159.5 586.6,160.2 587.7,160.6 588.7,161.6 589.7,159.9 590.7,155.4 591.7,158.6 592.8,157.8 593.8,161.6 594.8,163.8 595.9,161.8 596.9,163.7 597.9,164.9 599.0,169.1 600.0,169.8 601.0,168.1 602.1,168.3 603.1,165.7 604.1,161.6 605.1,161.7 606.1,157.5 607.1,154.8 608.2,153.4 609.2,153.4 610.2,155.4 611.3,156.8 612.3,159.5 613.3,158.1 614.3,158.1 615.4,155.8 616.4,153.4 617.4,156.2 618.5,162.2 619.5,167.8 620.0,168.9 621.9,166.4 623.1,164.7 624.4,162.6 626.3,172.7 628.2,177.7 629.5,177.6 630.7,177.7 632.6,176.4 634.4,165.1 635.5,165.1 636.5,163.4 637.6,162.6 639.5,172.7 641.4,166.4 643.2,168.9 645.1,173.9 647.0,168.9 648.9,157.6 649.9,153.8 651.0,152.4 652.0,151.3 653.9,160.1 655.1,159.0 656.4,155.1 657.6,155.8 658.9,157.6 660.2,157.4 661.5,155.1 662.5,157.4 663.6,156.4 664.6,156.3 666.5,160.1 667.7,170.2 669.6,175.2 670.9,186.5 672.1,187.8 673.4,187.7 675.3,181.5 676.4,181.2 677.5,180.0 678.1,-20.0 678.3,-20.0 679.0,182.0 680.3,180.4 681.6,180.2 683.4,190.3 685.3,190.3 686.5,192.0 687.8,190.3 689.7,181.5 691.0,178.8 692.2,176.4 694.1,175.2 696.0,155.1 697.3,175.2 699.1,168.9 701.0,161.4 702.9,147.5 704.1,148.5 705.4,146.3 706.6,146.1 707.9,147.5 709.2,149.0 710.5,147.5 711.8,148.6 713.0,147.5 714.2,158.8 715.5,159.9 716.7,160.1 718.5,157.7 719.8,155.3 721.0,153.3 722.9,161.5 724.8,167.7 726.0,166.9 727.3,169.0 728.3,170.1 729.4,168.4 730.4,169.0 731.5,169.2 732.5,166.7 733.6,167.7 735.5,162.7 736.8,163.5 738.0,167.7 739.2,165.0 740.5,165.2 741.8,165.8 743.0,164.0 744.2,162.1 745.5,162.7 746.8,165.6 748.0,165.2 749.2,164.7 750.5,165.2 751.8,164.9 753.1,164.0 754.4,163.4 755.6,164.0 757.5,167.7 759.3,157.7 761.2,147.0 763.1,150.2 765.0,155.2 766.9,158.9 768.8,162.7 770.6,170.3 772.5,157.7 773.8,153.8 775.0,148.9 776.3,146.0 777.6,146.4 778.9,147.9 780.1,150.2 782.0,152.7 783.2,160.2 785.1,170.3 787.0,165.2 788.9,156.4 790.1,155.3 791.4,150.8 793.3,155.2 795.1,153.9 797.0,160.2 798.9,152.7 800.8,143.9 802.7,141.4 804.6,136.3 806.5,142.6 808.3,140.1 810.2,152.7 812.1,160.2 814.0,148.9 815.0,145.1 816.0,143.9 817.2,146.2 818.5,146.5 819.7,148.8 821.0,150.1 822.2,151.1 823.5,155.1 824.5,155.7 825.5,162.0 826.5,162.7 828.0,180.3 829.0,205.4 830.6,240.0 831.8,270.0 833.0,295.0 834.0,306.0 835.2,316.0 837.5,328.3 838.9,334.6 840.3,338.2 841.5,341.8 842.6,344.2 843.8,345.3 844.9,348.5 846.0,346.7 847.0,349.8 848.1,350.9 849.3,351.5"/>
</g>
<g class="g">
<text class="t" transform="translate(63,364.3) scale(1.07,1)" text-anchor="end">0</text>
<text class="t" transform="translate(63,295.4) scale(1.07,1)" text-anchor="end">5</text>
<text class="t" transform="translate(63,226.5) scale(1.07,1)" text-anchor="end">10</text>
<text class="t" transform="translate(63,157.7) scale(1.07,1)" text-anchor="end">15</text>
<text class="t" transform="translate(63,88.8) scale(1.07,1)" text-anchor="end">20</text>
<text class="t" transform="translate(63,19.9) scale(1.07,1)" text-anchor="end">25</text>
<text class="t" transform="translate(82.3,392.8) scale(1.05,1)" text-anchor="middle">0</text>
<text class="t" transform="translate(174.8,392.8) scale(1.05,1)" text-anchor="middle">0.5</text>
<text class="t" transform="translate(267.2,392.8) scale(1.05,1)" text-anchor="middle">1</text>
<text class="t" transform="translate(359.7,392.8) scale(1.05,1)" text-anchor="middle">1.5</text>
<text class="t" transform="translate(451.5,392.8) scale(1.05,1)" text-anchor="middle">2</text>
<text class="t" transform="translate(544.1,392.8) scale(1.05,1)" text-anchor="middle">2.5</text>
<text class="t" transform="translate(636.5,392.8) scale(1.05,1)" text-anchor="middle">3</text>
<text class="t" transform="translate(728.8,392.8) scale(1.05,1)" text-anchor="middle">3.5</text>
<text class="t" transform="translate(821.2,392.8) scale(1.05,1)" text-anchor="middle">4</text>
<text class="b" transform="translate(473.9,427.8) scale(0.92,1)" text-anchor="middle" font-size="22.7">Time, h</text>
<text class="b" font-size="22.5" transform="translate(27.9,297.8) rotate(-90) scale(0.94,1)">Concentration,</text>
<text class="b" font-size="22.5" transform="translate(27.9,145.3) rotate(-90) scale(1.053,1)">mg/m<tspan font-size="12.5" dy="-8.5">3</tspan></text>
<text transform="translate(967.6,172.0) scale(1.045,1)" font-size="18.3">Day 1</text>
<text transform="translate(967.6,212.0) scale(1.045,1)" font-size="18.3">Day 2</text>
<text transform="translate(967.6,252.0) scale(1.045,1)" font-size="18.3">Day 4</text>
<text transform="translate(967.6,292.0) scale(1.045,1)" font-size="18.3">Day 5</text>
</g>
<line x1="921" y1="165.6" x2="963.5" y2="165.6" stroke="#315C93" stroke-width="4.3" stroke-linecap="round"/>
<line x1="921" y1="205.6" x2="963.5" y2="205.6" stroke="#BB4542" stroke-width="4.3" stroke-linecap="round"/>
<line x1="921" y1="245.6" x2="963.5" y2="245.6" stroke="#93B553" stroke-width="4.3" stroke-linecap="round"/>
<line x1="921" y1="285.6" x2="963.5" y2="285.6" stroke="#7759A0" stroke-width="4.3" stroke-linecap="round"/>
</svg>
</body></html>
